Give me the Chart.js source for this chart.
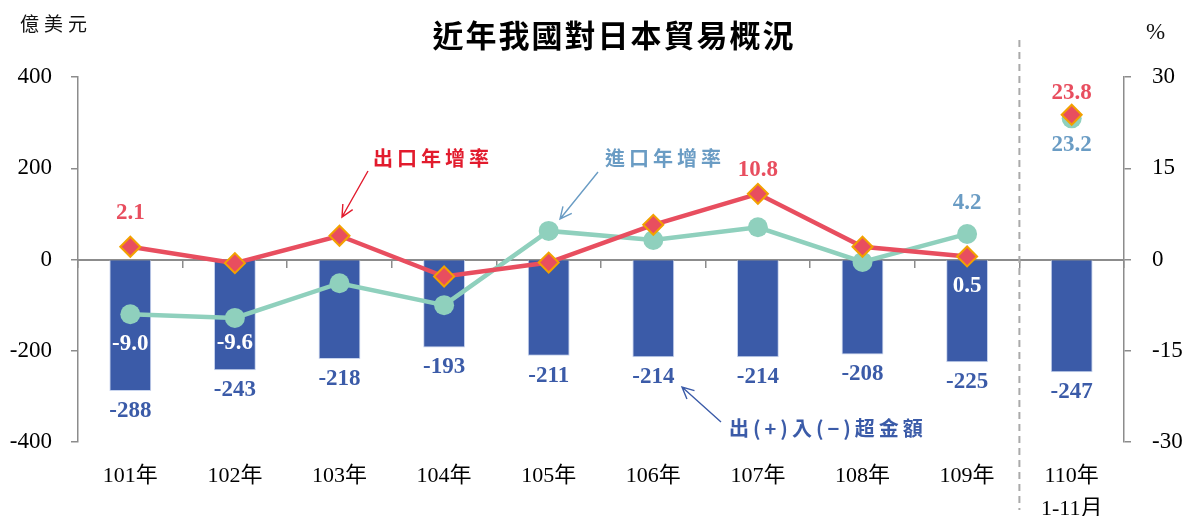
<!DOCTYPE html>
<html lang="zh-Hant">
<head>
  <meta charset="UTF-8" />
  <title>近年我國對日本貿易概況</title>
  <script src="https://cdn.jsdelivr.net/npm/chart.js"></script>
  <style>
    html, body { margin: 0; padding: 0; background: #fff; }
  </style>
</head>
<body>
  <canvas id="tradeChart" width="1196" height="516"></canvas>

  <script>
    // data
    const years = ['101年', '102年', '103年', '104年', '105年', '106年', '107年', '108年', '109年', ['110年', '1-11月']];
    const balance = [-288, -243, -218, -193, -211, -214, -214, -208, -225, -247];   // 億美元
    const exportGrowth = [2.1, -0.6, 3.9, -2.8, -0.5, 5.7, 10.8, 2.1, 0.5, 23.8];   // %
    const importGrowth = [-9.0, -9.6, -3.9, -7.5, 4.7, 3.2, 5.3, -0.4, 4.2, 23.2];   // %
    const leftTicks = [-400, -200, 0, 200, 400];
    const rightTicks = [-30, -15, 0, 15, 30];

    const SERIF = "'Liberation Serif', 'Noto Sans CJK TC', serif";
    const CJK = "'Noto Sans CJK TC', sans-serif";
    const BLUE = '#3B5BA8';
    const RED = '#E84E5F';
    const TEAL = '#8FD0BD';
    const STEEL = '#6A9CC4';
    const AXIS = '#8c8c8c';

    // which values get a number printed, and where relative to the mark
    const valueLabels = [
      { ds: 0, i: 0, dy: -34, color: RED },
      { ds: 0, i: 6, dy: -24, color: RED },
      { ds: 0, i: 8, dy: 30, color: '#fff' },
      { ds: 0, i: 9, dy: -22, color: RED },
      { ds: 1, i: 0, dy: 30, color: '#fff' },
      { ds: 1, i: 1, dy: 25, color: '#fff' },
      { ds: 1, i: 8, dy: -31, color: STEEL },
      { ds: 1, i: 9, dy: 27, color: STEEL }
    ];

    function arrow(ctx, x1, y1, x2, y2, color) {
      const a = Math.atan2(y2 - y1, x2 - x1);
      const h = 13;
      ctx.save();
      ctx.strokeStyle = color;
      ctx.lineWidth = 1.4;
      ctx.beginPath();
      ctx.moveTo(x1, y1);
      ctx.lineTo(x2, y2);
      ctx.moveTo(x2 - h * Math.cos(a - 0.45), y2 - h * Math.sin(a - 0.45));
      ctx.lineTo(x2, y2);
      ctx.lineTo(x2 - h * Math.cos(a + 0.45), y2 - h * Math.sin(a + 0.45));
      ctx.stroke();
      ctx.restore();
    }

    function text(ctx, str, x, y, font, color, align, spacing) {
      ctx.save();
      ctx.font = font;
      ctx.fillStyle = color;
      ctx.textAlign = align || 'center';
      ctx.textBaseline = 'middle';
      ctx.letterSpacing = spacing || '0px';
      ctx.fillText(str, x, y);
      ctx.restore();
    }

    const decorations = {
      id: 'decorations',
      afterDatasetsDraw(chart) {
        const ctx = chart.ctx;
        const lineMetas = [chart.getDatasetMeta(0), chart.getDatasetMeta(1)];
        valueLabels.forEach(l => {
          const el = lineMetas[l.ds].data[l.i];
          const v = chart.data.datasets[l.ds].data[l.i];
          text(ctx, v.toFixed(1), el.x, el.y + l.dy, 'bold 23px ' + SERIF, l.color);
        });
        const bars = chart.getDatasetMeta(2);
        bars.data.forEach((el, i) => {
          text(ctx, String(balance[i]), el.x, el.y + 20, 'bold 23px ' + SERIF, BLUE);
        });
      },
      afterDraw(chart) {
        const ctx = chart.ctx;
        const x = chart.scales.x;

        // title and units
        text(ctx, '近年我國對日本貿易概況', 614, 35, 'bold 31px ' + CJK, '#000', 'center', '2px');
        text(ctx, '億美元', 20, 24, '19px ' + CJK, '#111', 'left', '5px');
        text(ctx, '%', 1146, 33, '23px ' + SERIF, '#111', 'left');

        // dashed separator before the partial year
        const sepX = (x.getPixelForValue(8) + x.getPixelForValue(9)) / 2;
        ctx.save();
        ctx.strokeStyle = '#aaa';
        ctx.lineWidth = 2;
        ctx.setLineDash([7, 5]);
        ctx.beginPath();
        ctx.moveTo(sepX, 40);
        ctx.lineTo(sepX, 510);
        ctx.stroke();
        ctx.restore();

        // series call-outs
        text(ctx, '出口年增率', 373, 158, 'bold 20px ' + CJK, '#E21B2D', 'left', '4px');
        arrow(ctx, 368, 171, 342, 217, '#E21B2D');
        text(ctx, '進口年增率', 605, 158, 'bold 20px ' + CJK, STEEL, 'left', '4px');
        arrow(ctx, 598, 172, 560, 219, STEEL);
        text(ctx, '出(+)入(−)超金額', 729, 428, 'bold 20px ' + CJK, BLUE, 'left', '4px');
        arrow(ctx, 721, 422, 682, 387, BLUE);
      }
    };

    const hideLastGap = color => ctx => ctx.p1DataIndex === years.length - 1 ? 'rgba(0,0,0,0)' : color;

    new Chart(document.getElementById('tradeChart'), {
      type: 'bar',
      data: {
        labels: years,
        datasets: [
          {
            type: 'line',
            label: '出口年增率',
            data: exportGrowth,
            yAxisID: 'y1',
            borderColor: RED,
            borderWidth: 4.5,
            segment: { borderColor: hideLastGap(RED) },
            pointStyle: 'rectRot',
            pointRadius: 10,
            pointBackgroundColor: RED,
            pointBorderColor: '#F2A100',
            pointBorderWidth: 2,
            order: 0
          },
          {
            type: 'line',
            label: '進口年增率',
            data: importGrowth,
            yAxisID: 'y1',
            borderColor: TEAL,
            borderWidth: 4.5,
            segment: { borderColor: hideLastGap(TEAL) },
            pointRadius: 10,
            pointBackgroundColor: TEAL,
            pointBorderColor: TEAL,
            pointBorderWidth: 0,
            order: 1
          },
          {
            label: '出(+)入(-)超金額',
            data: balance,
            yAxisID: 'y',
            xAxisID: 'x',
            backgroundColor: BLUE,
            borderColor: '#c8d4ee',
            borderWidth: 1,
            barPercentage: 0.4,
            categoryPercentage: 1,
            order: 2
          }
        ]
      },
      options: {
        responsive: false,
        animation: false,
        layout: { padding: { top: 77 } },
        plugins: {
          legend: { display: false },
          title: { display: false },
          tooltip: { enabled: false }
        },
        scales: {
          x: {
            position: 'bottom',
            offset: true,
            border: { display: false },
            grid: { display: false, drawTicks: false },
            ticks: { color: '#000', padding: 18, maxRotation: 0, font: { size: 22, family: SERIF, lineHeight: 1.5 } },
            afterFit: s => { s.height = 74; }
          },
          x0: {
            type: 'category',
            labels: years,
            position: { y: 0 },
            offset: true,
            border: { display: true, color: AXIS, width: 2 },
            grid: { offset: true, drawOnChartArea: false, drawTicks: true, tickLength: 7, color: AXIS, lineWidth: 1.5 },
            ticks: { display: false }
          },
          y: {
            position: 'left',
            min: -400,
            max: 400,
            afterBuildTicks: s => { s.ticks = leftTicks.map(v => ({ value: v })); },
            border: { display: true, color: AXIS, width: 1.5 },
            grid: { drawOnChartArea: false, drawTicks: true, tickLength: 7, color: AXIS, lineWidth: 1.5 },
            ticks: { color: '#000', padding: 19, font: { size: 23, family: SERIF } },
            afterFit: s => { s.width = 78; }
          },
          y1: {
            position: 'right',
            min: -30,
            max: 30,
            afterBuildTicks: s => { s.ticks = rightTicks.map(v => ({ value: v })); },
            border: { display: true, color: AXIS, width: 1.5 },
            grid: { drawOnChartArea: false, drawTicks: true, tickLength: 7, color: AXIS, lineWidth: 1.5 },
            ticks: { color: '#000', padding: 21, font: { size: 23, family: SERIF } },
            afterFit: s => { s.width = 72; }
          }
        }
      },
      plugins: [decorations]
    });
  </script>
</body>
</html>
